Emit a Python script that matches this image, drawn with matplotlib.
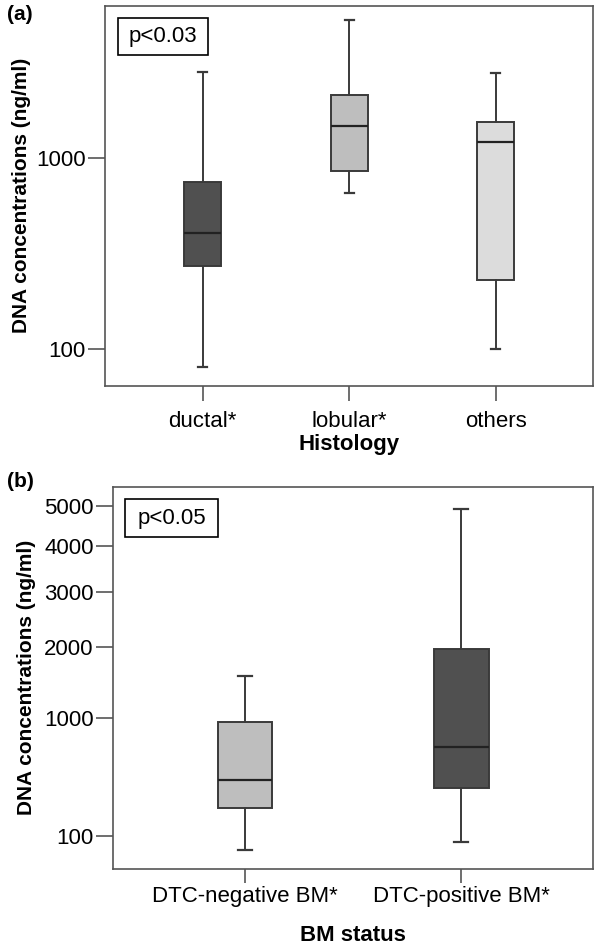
import numpy as np
import matplotlib
matplotlib.use('Agg')
import matplotlib.pyplot as plt
from matplotlib.patches import Rectangle

plt.rcParams['font.family'] = ['Liberation Sans', 'DejaVu Sans']

# --- panel (a): histology, log scale ---
hist_labels = ['ductal*', 'lobular*', 'others']
hist_whislo = [80, 660, 100]
hist_q1 = [272, 855, 231]
hist_med = [408, 1472, 1222]
hist_q3 = [754, 2150, 1557]
hist_whishi = [2840, 5320, 2805]
hist_colors = ['#505050', '#bebebe', '#dcdcdc']

# --- panel (b): BM status, sqrt scale ---
bm_labels = ['DTC-negative BM*', 'DTC-positive BM*']
bm_whislo = [55, 77]
bm_q1 = [230, 350]
bm_med = [408, 693]
bm_q3 = [959, 1962]
bm_whishi = [1551, 4907]
bm_colors = ['#bebebe', '#505050']

EDGE = '#3a3a3a'
SPINE = '#555555'


def make_stats(lo, q1, med, q3, hi):
    return [dict(whislo=a, q1=b, med=c, q3=d, whishi=e, fliers=[])
            for a, b, c, d, e in zip(lo, q1, med, q3, hi)]


def draw_boxes(ax, stats, colors, capw):
    bp = ax.bxp(stats, widths=0.253, patch_artist=True, showfliers=False,
                capwidths=capw,
                boxprops=dict(edgecolor=EDGE, linewidth=1.4),
                medianprops=dict(color='#222222', linewidth=1.6),
                whiskerprops=dict(color=EDGE, linewidth=1.4),
                capprops=dict(color=EDGE, linewidth=1.6))
    for patch, c in zip(bp['boxes'], colors):
        patch.set_facecolor(c)


def style_axes(ax):
    for sp in ax.spines.values():
        sp.set_color(SPINE)
        sp.set_linewidth(1.2)
    ax.tick_params(axis='y', which='major', length=12, width=1.2, color=SPINE,
                   labelsize=16, pad=2)
    ax.tick_params(axis='y', which='minor', length=0)
    ax.tick_params(axis='x', which='major', width=1.2, color=SPINE, labelsize=16)


def p_box(ax, x0, y0, x1, y1, txt):
    ax.add_patch(Rectangle((x0, y0), x1 - x0, y1 - y0, transform=ax.transAxes,
                           facecolor='white', edgecolor='black', linewidth=1.2,
                           zorder=5))
    ax.text((x0 + x1) / 2, (y0 + y1) / 2, txt, transform=ax.transAxes,
            ha='center', va='center', fontsize=16, zorder=6)


fig = plt.figure(figsize=(6, 9.51), dpi=100)

# panel (a)
ax1 = fig.add_axes([0.1755, 0.5944, 0.8123, 0.3993])
draw_boxes(ax1, make_stats(hist_whislo, hist_q1, hist_med, hist_q3, hist_whishi),
           hist_colors, 0.061)
ax1.set_yscale('log')
ax1.set_ylim(64, 6310)
ax1.set_xlim(0.335, 3.662)
ax1.set_yticks([100, 1000])
ax1.set_yticklabels(['100', '1000'])
ax1.set_xticks([1, 2, 3])
ax1.set_xticklabels(hist_labels)
style_axes(ax1)
ax1.tick_params(axis='x', length=10.5, pad=8)
ax1.set_xlabel('Histology', fontsize=16, fontweight='bold', labelpad=1)
ax1.set_ylabel('DNA concentrations (ng/ml)', fontsize=15, fontweight='bold')
ax1.yaxis.set_label_coords(-0.152, 0.5)
p_box(ax1, 0.026, 0.871, 0.211, 0.968, 'p<0.03')

# panel (b)
ax2 = fig.add_axes([0.1888, 0.0862, 0.8, 0.402])
draw_boxes(ax2, make_stats(bm_whislo, bm_q1, bm_med, bm_q3, bm_whishi),
           bm_colors, 0.065)
ax2.set_yscale('function', functions=(lambda v: np.sqrt(np.clip(v, 0, None)),
                                      lambda v: np.asarray(v) ** 2))
ax2.set_ylim(15, 5507)
ax2.set_xlim(0.391, 2.610)
ticks_b = [100, 1000, 2000, 3000, 4000, 5000]
ax2.set_yticks(ticks_b)
ax2.set_yticklabels([str(t) for t in ticks_b])
ax2.set_xticks([1, 2])
ax2.set_xticklabels(bm_labels)
style_axes(ax2)
ax2.tick_params(axis='x', length=10, pad=2)
ax2.set_xlabel('BM status', fontsize=16, fontweight='bold', labelpad=13)
ax2.set_ylabel('DNA concentrations (ng/ml)', fontsize=15, fontweight='bold')
ax2.yaxis.set_label_coords(-0.16, 0.5)
p_box(ax2, 0.024, 0.869, 0.219, 0.967, 'p<0.05')

fig.text(0.012, 0.985, '(a)', fontsize=15, fontweight='bold', ha='left', va='center')
fig.text(0.012, 0.494, '(b)', fontsize=15, fontweight='bold', ha='left', va='center')

fig.savefig('out.png', dpi=100)
